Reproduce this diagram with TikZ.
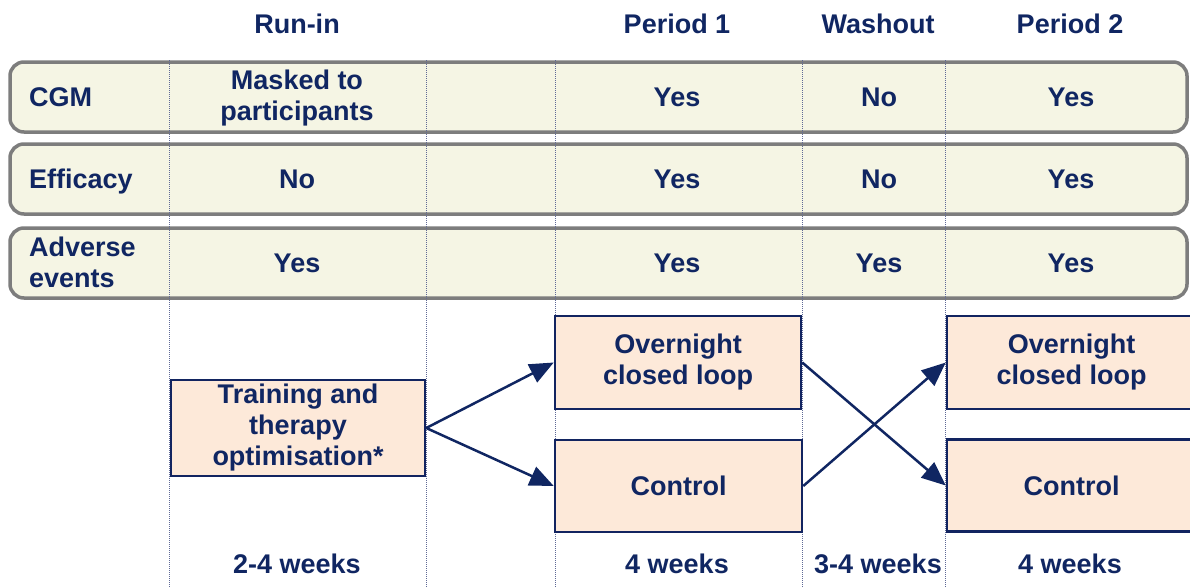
\documentclass[tikz,border=0pt]{standalone}
\usepackage{fontspec}
\setmainfont{Liberation Sans}
\usetikzlibrary{arrows.meta}
\definecolor{navy}{RGB}{16,38,98}
\definecolor{boxnavy}{RGB}{18,36,96}
\definecolor{rowgray}{RGB}{125,125,125}
\definecolor{rowfill}{RGB}{245,245,228}
\definecolor{armfill}{RGB}{253,233,217}
\definecolor{sepblue}{RGB}{95,105,150}
\begin{document}
\begin{tikzpicture}[x=1pt,y=-1pt,
  txt/.style={font=\bfseries\fontsize{27}{31}\selectfont, text=navy, inner sep=0pt, align=center},
  rowbox/.style={draw=rowgray, line width=3.5pt, fill=rowfill, rounded corners=14pt, inner sep=0pt},
  armbox/.style={draw=boxnavy, line width=2.5pt, fill=armfill, inner sep=0pt, font=\bfseries\fontsize{27}{31}\selectfont, text=navy, align=center},
  sepline/.style={draw=sepblue, line width=0.8pt, dash pattern=on 1pt off 1pt},
  arr/.style={draw=navy, line width=2.5pt, -{Triangle[length=24pt,width=20pt]}}]
\useasboundingbox (0,0) rectangle (1190,587);

% row bands
\node[rowbox, minimum width=1177pt, minimum height=70pt] (rowcgm) at (598.5,97) {};
\node[rowbox, minimum width=1177pt, minimum height=70pt] (roweff) at (598.5,179) {};
\node[rowbox, minimum width=1177pt, minimum height=70pt] (rowae) at (598.5,263) {};

% dotted column separators
\coordinate (s1t) at (169,60);  \coordinate (s1b) at (169,587);
\coordinate (s2t) at (426,60);  \coordinate (s2b) at (426,587);
\coordinate (s3t) at (555,60);  \coordinate (s3b) at (555,587);
\coordinate (s4t) at (802,60);  \coordinate (s4b) at (802,587);
\coordinate (s5t) at (945,60);  \coordinate (s5b) at (945,587);
\draw[sepline] (s1t) -- (s1b);
\draw[sepline] (s2t) -- (s2b);
\draw[sepline] (s3t) -- (s3b);
\draw[sepline] (s4t) -- (s4b);
\draw[sepline] (s5t) -- (s5b);

% headers
\node[txt, anchor=base] (hrun) at (297,33) {Run-in};
\node[txt, anchor=base] (hp1) at (677,33) {Period 1};
\node[txt, anchor=base] (hwash) at (878,33) {Washout};
\node[txt, anchor=base] (hp2) at (1070,33) {Period 2};

% row labels
\node[txt, anchor=base west] (lcgm) at (29,106) {CGM};
\node[txt, anchor=base west] (leff) at (29,188) {Efficacy};
\node[txt, anchor=west, align=left] (lae) at (29,262) {Adverse\\events};

% CGM row
\node[txt] (cgmrun) at (297,98) {Masked to\\participants};
\node[txt, anchor=base] (cgmp1) at (677,106) {Yes};
\node[txt, anchor=base] (cgmwash) at (879,106) {No};
\node[txt, anchor=base] (cgmp2) at (1071,106) {Yes};

% Efficacy row
\node[txt, anchor=base] (effrun) at (297,188) {No};
\node[txt, anchor=base] (effp1) at (677,188) {Yes};
\node[txt, anchor=base] (effwash) at (879,188) {No};
\node[txt, anchor=base] (effp2) at (1071,188) {Yes};

% Adverse events row
\node[txt, anchor=base] (aerun) at (297,272) {Yes};
\node[txt, anchor=base] (aep1) at (677,272) {Yes};
\node[txt, anchor=base] (aewash) at (879,272) {Yes};
\node[txt, anchor=base] (aep2) at (1071,272) {Yes};

% arm boxes
\node[armbox, minimum width=254pt, minimum height=96pt] (train) at (298,428) {Training and\\therapy\\optimisation*};
\node[armbox, minimum width=246pt, minimum height=93pt] (on1) at (678,362.5) {Overnight\\closed loop};
\node[armbox, minimum width=247pt, minimum height=92pt] (ctl1) at (678.5,486) {Control};
\node[armbox, minimum width=249pt, minimum height=93pt] (on2) at (1071.5,362.5) {Overnight\\closed loop};
\node[armbox, minimum width=249pt, minimum height=92pt] (ctl2) at (1071.5,485.5) {Control};

% arrows
\draw[arr] (train.east) -- (on1.west);
\draw[arr] (train.east) -- (ctl1.west);
\draw[arr] (on1.east) -- (ctl2.west);
\draw[arr] (ctl1.east) -- (on2.west);

% durations
\node[txt, anchor=base] (wrun) at (297,573) {2-4 weeks};
\node[txt, anchor=base] (wp1) at (677,573) {4 weeks};
\node[txt, anchor=base] (wwash) at (878,573) {3-4 weeks};
\node[txt, anchor=base] (wp2) at (1070,573) {4 weeks};
\end{tikzpicture}
\end{document}
